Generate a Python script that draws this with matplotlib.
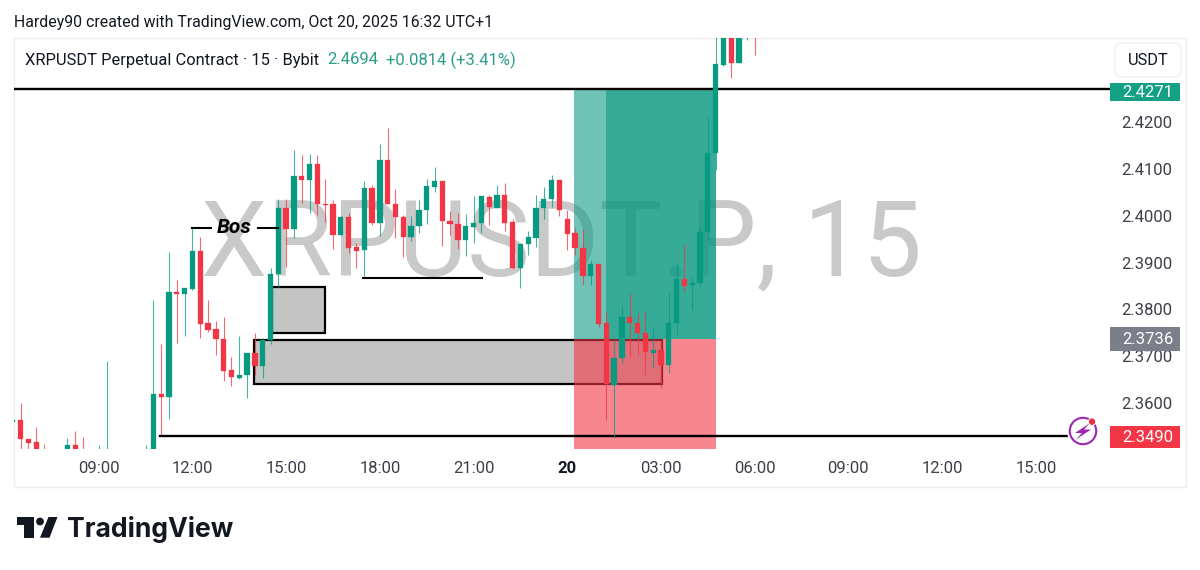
import matplotlib
matplotlib.use("Agg")
import matplotlib.pyplot as plt
from matplotlib.patches import Rectangle, FancyBboxPatch, Circle, Polygon

plt.rcParams['font.family'] = ['Roboto', 'DejaVu Sans']

# ---------- data (bar index, 15-minute bars; bar 0 = 09:00) ----------
bars = [-11,-10,-9,-8,-7,-4,-3,-2,0,1,6,7,8,9,10,11,12,13,14,15,16,17,18,19,20,21,22,23,24,25,26,27,28,29,30,
        31,32,33,34,35,36,37,38,39,40,41,42,43,44,45,46,47,48,49,50,51,52,53,54,55,56,57,58,59,60,
        61,62,63,64,65,66,67,68,69,70,71,72,73,74,75,76,77,78,79,80,81,82,83,84]
opens = [2.3559,2.3564,2.3523,2.3517,2.3490,2.3495,2.3510,2.3480,2.3470,2.3460,2.3470,2.3480,2.3619,2.3614,2.3838,2.3833,2.3844,2.3925,2.3770,2.3758,2.3737,2.3671,2.3654,2.3659,2.3706,2.3679,2.3735,2.3875,2.4017,2.3971,2.4085,2.4076,2.4110,2.4026,2.4025,
         2.3959,2.3998,2.3933,2.3927,2.4060,2.3985,2.4119,2.4026,2.3998,2.3954,2.3978,2.4012,2.4062,2.4073,2.3989,2.3982,2.3948,2.3975,2.3984,2.4039,2.4017,2.4044,2.3987,2.3889,2.3940,2.3953,2.4016,2.4036,2.4076,2.3992,
         2.3963,2.3930,2.3872,2.3897,2.3770,2.3639,2.3696,2.3783,2.3772,2.3750,2.3706,2.3713,2.3681,2.3770,2.3864,2.3851,2.3856,2.3966,2.4133,2.4322,2.4410,2.4327,2.4410,2.4430]
highs = [2.3564,2.3600,2.3523,2.3550,2.3513,2.3526,2.3540,2.3527,2.3510,2.3690,2.3510,2.3820,2.3726,2.3922,2.3862,2.3845,2.3974,2.3954,2.3820,2.3775,2.3784,2.3698,2.3743,2.3707,2.3749,2.3738,2.3888,2.4036,2.4035,2.4140,2.4130,2.4132,2.4130,2.4078,2.4033,
         2.3999,2.4005,2.3942,2.4074,2.4066,2.4153,2.4187,2.4058,2.4001,2.3999,2.4033,2.4078,2.4103,2.4073,2.4011,2.4006,2.4004,2.4042,2.4042,2.4044,2.4066,2.4070,2.3992,2.3942,2.3968,2.4044,2.4061,2.4087,2.4076,2.4012,
         2.3974,2.3972,2.3905,2.3897,2.3795,2.3735,2.3809,2.3834,2.3793,2.3795,2.3760,2.3735,2.3834,2.3898,2.3940,2.3867,2.3977,2.4208,2.4396,2.4420,2.4430,2.4430,2.4440,2.4440]
lows = [2.3557,2.3496,2.3496,2.3480,2.3480,2.3490,2.3490,2.3460,2.3460,2.3450,2.3460,2.3470,2.3532,2.3565,2.3729,2.3743,2.3841,2.3738,2.3752,2.3702,2.3648,2.3636,2.3651,2.3611,2.3660,2.3653,2.3726,2.3848,2.3891,2.3952,2.4028,2.4006,2.4001,2.3987,2.3928,
        2.3959,2.3920,2.3888,2.3869,2.3980,2.3957,2.4026,2.3952,2.3911,2.3945,2.3962,2.3982,2.4051,2.3935,2.3959,2.3928,2.3914,2.3941,2.3962,2.3980,2.4016,2.3968,2.3886,2.3845,2.3916,2.3934,2.3992,2.4018,2.3999,2.3927,
        2.3916,2.3852,2.3852,2.3763,2.3564,2.3525,2.3686,2.3699,2.3703,2.3660,2.3674,2.3632,2.3664,2.3742,2.3838,2.3799,2.3848,2.3948,2.4098,2.4320,2.4293,2.4325,2.4375,2.4343]
closes = [2.3563,2.3523,2.3515,2.3496,2.3485,2.3510,2.3495,2.3470,2.3480,2.3475,2.3480,2.3619,2.3614,2.3837,2.3833,2.3845,2.3925,2.3769,2.3756,2.3736,2.3669,2.3655,2.3661,2.3706,2.3679,2.3735,2.3876,2.4017,2.3971,2.4085,2.4076,2.4110,2.4026,2.4023,2.3959,
          2.3998,2.3930,2.3925,2.4060,2.3984,2.4119,2.4026,2.3997,2.3954,2.3979,2.4012,2.4063,2.4073,2.3989,2.3982,2.3948,2.3977,2.3984,2.4041,2.4018,2.4044,2.3985,2.3889,2.3940,2.3954,2.4016,2.4036,2.4076,2.4012,2.3961,
          2.3930,2.3872,2.3897,2.3769,2.3641,2.3696,2.3783,2.3772,2.3749,2.3708,2.3713,2.3681,2.3770,2.3864,2.3850,2.3857,2.3966,2.4133,2.4324,2.4410,2.4327,2.4410,2.4430,2.4420]

price_ticks = [2.36, 2.37, 2.38, 2.39, 2.40, 2.41, 2.42]
time_tick_bars = [0, 12, 24, 36, 48, 60, 72, 84, 96, 108, 120]
time_tick_labels = ['09:00', '12:00', '15:00', '18:00', '21:00', '20', '03:00', '06:00', '09:00', '12:00', '15:00']

target_price = 2.4271
entry_price = 2.3736
stop_price = 2.3490
demand_zone = (19.9, 72.1, 2.3641, 2.3735)
upper_zone = (22.2, 29.0, 2.3750, 2.3848)
position_bars = (60.86, 64.95, 79.04)
swing_low_line = (7.85, 124.0, 2.3530)
bos_price = 2.3974
low_line = (33.85, 49.1, 2.3867)

GREEN = '#089981'
RED = '#F23645'
W, H = 1200, 570

fig = plt.figure(figsize=(W / 100, H / 100), dpi=100, facecolor='white')


def rect_px(x0, y0, x1, y1):
    return [x0 / W, 1 - y1 / H, (x1 - x0) / W, (y1 - y0) / H]


# ---------- price pane ----------
ax = fig.add_axes(rect_px(14, 38, 1110, 449), zorder=2)
ax.patch.set_alpha(0)
ax.set_xlim(-10.85, 129.5)
ax.set_ylim(2.35020, 2.43793)
for s in ax.spines.values():
    s.set_visible(False)

ax.text(59.2, 2.3932, 'XRPUSDT.P, 15', color='#c9c9c9', fontsize=76, ha='center', va='center', zorder=1)

for (x0, x1, y0, y1) in (demand_zone, upper_zone):
    ax.add_patch(Rectangle((x0, y0), x1 - x0, y1 - y0, facecolor='#c4c4c4', edgecolor='black', lw=1.6, zorder=2))

ax.add_patch(Rectangle((position_bars[0], entry_price), position_bars[1] - position_bars[0], target_price - entry_price,
                       facecolor=GREEN, alpha=0.58, lw=0, zorder=3))
ax.add_patch(Rectangle((position_bars[1], entry_price), position_bars[2] - position_bars[1], target_price - entry_price,
                       facecolor=GREEN, alpha=0.82, lw=0, zorder=3))
ax.add_patch(Rectangle((position_bars[0], stop_price), position_bars[2] - position_bars[0], entry_price - stop_price,
                       facecolor=RED, alpha=0.6, lw=0, zorder=3))

ax.plot([-10.85, 129.5], [target_price - 0.0001] * 2, color='black', lw=1.7, zorder=3.5)
ax.plot(swing_low_line[:2], [swing_low_line[2]] * 2, color='black', lw=1.7, zorder=3.5)
ax.plot(low_line[:2], [low_line[2]] * 2, color='black', lw=1.5, zorder=3.5)
ax.plot([12, 14.4], [bos_price] * 2, color='black', lw=1.5, zorder=5)
ax.plot([20.4, 23], [bos_price] * 2, color='black', lw=1.5, zorder=5)
ax.text(17.4, bos_price, 'Bos', color='black', fontsize=15, fontweight='bold', fontstyle='italic',
        ha='center', va='center', zorder=5)

for b, o, h, l, c in zip(bars, opens, highs, lows, closes):
    col = GREEN if c >= o else RED
    ax.plot([b, b], [l, h], color=col, lw=0.8, alpha=0.75, zorder=4, solid_capstyle='butt')
    ax.add_patch(Rectangle((b - 0.34, min(o, c)), 0.68, abs(c - o), facecolor=col, edgecolor=col, lw=0.2, zorder=4.2))

ax.yaxis.tick_right()
ax.set_yticks(price_ticks)
ax.set_yticklabels([f'{p:.4f}' for p in price_ticks], fontsize=12, color='#3c3f4a')
ax.set_xticks(time_tick_bars)
ax.set_xticklabels(time_tick_labels, fontsize=12, color='#3c3f4a')
for lbl in ax.get_xticklabels():
    if lbl.get_text() == '20':
        lbl.set_fontweight('bold')
        lbl.set_color('#131722')
ax.tick_params(axis='y', length=0, pad=8.3)
ax.tick_params(axis='x', length=0, pad=8.6)

# ---------- chrome in pixel coordinates ----------
back = fig.add_axes([0, 0, 1, 1], zorder=1)
back.set_xlim(0, W)
back.set_ylim(H, 0)
back.axis('off')
back.add_patch(Rectangle((14, 38), 1172, 449, facecolor='white', edgecolor='#eeeeee', lw=1))

ui = fig.add_axes([0, 0, 1, 1], zorder=3)
ui.set_xlim(0, W)
ui.set_ylim(H, 0)
ui.axis('off')
ui.patch.set_alpha(0)

ui.text(14, 22, 'Hardey90 created with TradingView.com, Oct 20, 2025 16:32 UTC+1', fontsize=11.45,
        color='#131722', va='center', ha='left')
ui.text(25, 60, 'XRPUSDT Perpetual Contract · 15 · Bybit', fontsize=11.9, color='#131722', va='center', ha='left')
ui.text(327, 60, '2.4694', fontsize=12, color='#2a9d8a', va='center', ha='left')
ui.text(386, 60, '+0.0814 (+3.41%)', fontsize=12, color='#2a9d8a', va='center', ha='left')

ui.add_patch(FancyBboxPatch((1119, 47), 58, 26, boxstyle='round,pad=4,rounding_size=6', facecolor='white',
                            edgecolor='#f0f0f0', lw=1))
ui.text(1148, 60.5, 'USDT', fontsize=11.8, color='#131722', ha='center', va='center')

for (y0, y1, col, txt) in ((83, 101, '#14a085', '2.4271'), (327, 351, '#7b7f8a', '2.3736'), (426, 448, RED, '2.3490')):
    ui.add_patch(Rectangle((1110, y0), 70, y1 - y0, facecolor=col, edgecolor='none', zorder=3))
    ui.text(1148, (y0 + y1) / 2 + 0.8, txt, fontsize=12, color='white', ha='center', va='center', zorder=4)

# alert icon
ui.add_patch(Circle((1083, 431), 16, facecolor='white', edgecolor='none', zorder=3))
ui.add_patch(Circle((1083, 431), 13.2, facecolor='white', edgecolor='#9c27b0', lw=1.5, zorder=3.1))
ui.add_patch(Polygon([(1090, 423), (1075, 433), (1082, 433), (1076, 439.5), (1091, 429.5), (1084, 429.5)],
                     closed=True, facecolor='#9c27b0', edgecolor='none', zorder=3.2))
ui.add_patch(Circle((1092, 421.7), 4.2, facecolor='white', edgecolor='none', zorder=3.3))
ui.add_patch(Circle((1092, 421.7), 3.2, facecolor='#e5303f', edgecolor='none', zorder=3.4))

# logo
LOGO = '#131722'
ui.add_patch(Polygon([(16.7, 517), (33.5, 517), (33.5, 537.7), (24, 537.7), (24, 525), (16.7, 525)], closed=True,
                     facecolor=LOGO, edgecolor='none'))
ui.add_patch(Circle((40, 521.5), 3.9, facecolor=LOGO, edgecolor='none'))
ui.add_patch(Polygon([(48.5, 517), (57.5, 517), (49.5, 537.7), (40, 537.7)], closed=True, facecolor=LOGO, edgecolor='none'))
ui.text(67.5, 537.3, 'TradingView', fontsize=19.1, fontweight='bold', family=['Inter', 'DejaVu Sans'], color=LOGO, ha='left', va='baseline')

fig.savefig('out.png', dpi=100)
